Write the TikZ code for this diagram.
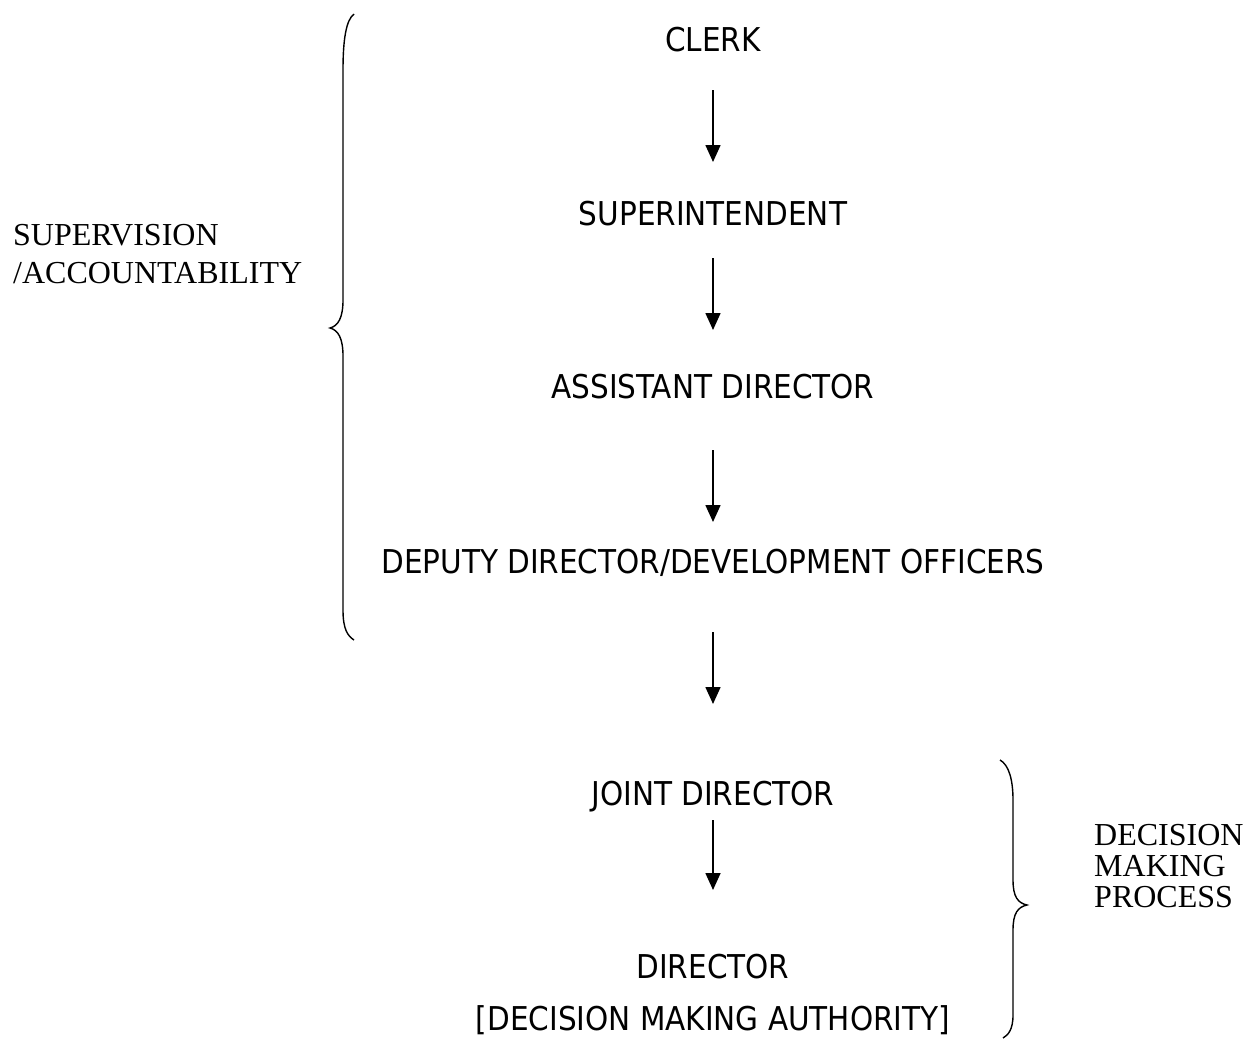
\documentclass[tikz,border=0pt]{standalone}
\usepackage{fontspec}
\setmainfont{Liberation Serif}
\newfontfamily\boxfont{DejaVu Sans Condensed}
\usetikzlibrary{arrows.meta}
\begin{document}
\begin{tikzpicture}[x=1pt,y=-1pt,
  level/.style={anchor=base,inner sep=0pt,font=\boxfont\fontsize{32.8}{38}\selectfont},
  side/.style={anchor=base west,inner sep=0pt,font=\fontsize{32}{38}\selectfont},
  flow/.style={line width=1.6pt,-{Triangle[length=17pt,width=15pt]}},
  brace/.style={line width=1.4pt}]
\useasboundingbox (0,0) rectangle (1245,1041);
\node[level] (clerk) at (713,52) {CLERK};
\node[level] (sup) at (713,225) {SUPERINTENDENT};
\node[level] (asst) at (713,398) {ASSISTANT DIRECTOR};
\node[level] (dep) at (713,573) {DEPUTY DIRECTOR/DEVELOPMENT OFFICERS};
\node[level] (joint) at (713,805) {JOINT DIRECTOR};
\node[level] (dir) at (713,978) {DIRECTOR};
\node[level] (auth) at (713,1030) {[DECISION MAKING AUTHORITY]};
\coordinate (a1s) at (713,90);  \coordinate (a1e) at (713,162);
\coordinate (a2s) at (713,258); \coordinate (a2e) at (713,330);
\coordinate (a3s) at (713,450); \coordinate (a3e) at (713,522);
\coordinate (a4s) at (713,632); \coordinate (a4e) at (713,704);
\coordinate (a5s) at (713,820); \coordinate (a5e) at (713,890);
\draw[flow] (a1s) -- (a1e);
\draw[flow] (a2s) -- (a2e);
\draw[flow] (a3s) -- (a3e);
\draw[flow] (a4s) -- (a4e);
\draw[flow] (a5s) -- (a5e);
\node[side] (sv1) at (13,245) {SUPERVISION};
\node[side] (sv2) at (13,283) {/ACCOUNTABILITY};
\node[side] (dm1) at (1094,845) {DECISION};
\node[side] (dm2) at (1094,876) {MAKING};
\node[side] (dm3) at (1094,907) {PROCESS};
\draw[brace] (354,14) .. controls (346,20) and (343,40) .. (343,70) -- (343,300)
  .. controls (343,318) and (338,326) .. (330,328)
  .. controls (338,330) and (343,338) .. (343,356) -- (343,610)
  .. controls (343,630) and (348,636) .. (354,640);
\draw[brace] (1000,760) .. controls (1009,765) and (1013,780) .. (1013,800) -- (1013,880)
  .. controls (1013,897) and (1018,903) .. (1027,905)
  .. controls (1018,907) and (1013,913) .. (1013,930) -- (1013,1015)
  .. controls (1013,1030) and (1008,1035) .. (1003,1038);
\end{tikzpicture}
\end{document}
